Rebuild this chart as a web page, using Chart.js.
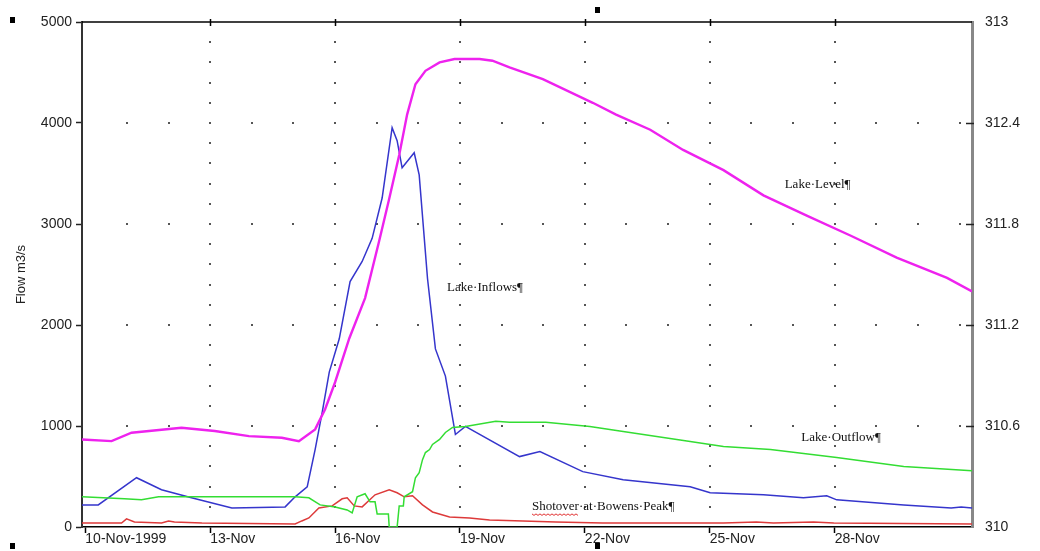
<!DOCTYPE html>
<html><head><meta charset="utf-8">
<script src="https://cdn.jsdelivr.net/npm/chart.js@4.4.1/dist/chart.umd.min.js"></script>
<style>html,body{margin:0;padding:0;background:#fff;}#wrap{width:1040px;height:551px;position:relative;}</style>
</head><body><div id="wrap"><canvas id="c" width="1040" height="551"></canvas></div>
<script>
// ---- tick labels ----
const xTickDays = [0, 3, 6, 9, 12, 15, 18];
const xTickLabels = ['10-Nov-1999', '13-Nov', '16-Nov', '19-Nov', '22-Nov', '25-Nov', '28-Nov'];
const flowTicks = [0, 1000, 2000, 3000, 4000, 5000];
const flowTickLabels = ['0', '1000', '2000', '3000', '4000', '5000'];
const levelTicks = [310, 310.6, 311.2, 311.8, 312.4, 313];
const levelTickLabels = ['310', '310.6', '311.2', '311.8', '312.4', '313'];

// ---- series (days since 10-Nov-1999 00:00) ----
const inflowDays   = [-0.08, 0.31, 1.23, 1.83, 2.55, 3.52, 4.80, 5.04, 5.33, 5.52, 5.69, 5.86, 6.10, 6.36, 6.65, 6.89, 7.13, 7.37, 7.49, 7.61, 7.90, 8.02, 8.22, 8.41, 8.65, 8.89, 9.13, 10.43, 10.92, 11.95, 12.92, 14.53, 15.01, 16.29, 17.25, 17.81, 18.05, 19.66, 20.80, 21.04, 21.3];
const inflowValues = [219, 219, 488, 369, 289, 189, 199, 299, 398, 767, 1135, 1534, 1863, 2430, 2629, 2858, 3257, 3954, 3825, 3556, 3705, 3486, 2460, 1763, 1494, 916, 996, 697, 747, 548, 468, 398, 339, 319, 289, 309, 269, 219, 189, 199, 189];

const outflowDays   = [-0.08, 0.94, 1.35, 1.76, 5.04, 5.37, 5.64, 6.00, 6.29, 6.41, 6.53, 6.72, 6.84, 6.96, 7.01, 7.28, 7.30, 7.49, 7.54, 7.64, 7.66, 7.86, 7.93, 8.02, 8.10, 8.17, 8.27, 8.34, 8.51, 8.65, 8.82, 9.13, 9.86, 10.19, 11.06, 12.12, 12.92, 14.53, 15.33, 16.46, 18.05, 19.66, 21.3];
const outflowValues = [299, 279, 269, 299, 299, 289, 219, 199, 169, 139, 299, 329, 249, 249, 129, 129, 0, 0, 209, 209, 299, 349, 488, 538, 667, 737, 767, 817, 867, 936, 986, 996, 1046, 1036, 1036, 996, 946, 847, 797, 767, 687, 598, 558];

const shotoverDays   = [-0.08, 0.87, 0.99, 1.18, 1.83, 2.0, 2.14, 2.80, 5.04, 5.20, 5.37, 5.61, 5.93, 6.17, 6.29, 6.46, 6.65, 6.96, 7.30, 7.49, 7.66, 7.86, 8.10, 8.34, 8.75, 9.23, 9.71, 10.51, 11.30, 12.43, 15.33, 16.12, 16.53, 17.49, 17.98, 21.3];
const shotoverValues = [40, 40, 80, 50, 40, 60, 50, 40, 30, 60, 90, 189, 209, 279, 289, 209, 199, 319, 369, 339, 299, 309, 219, 149, 100, 90, 70, 60, 50, 40, 40, 50, 40, 50, 40, 30];

const levelDays   = [-0.08, 0.63, 1.11, 2.31, 3.11, 3.93, 4.72, 5.13, 5.52, 5.76, 6.00, 6.34, 6.72, 7.06, 7.30, 7.54, 7.73, 7.93, 8.17, 8.51, 8.87, 9.47, 9.78, 10.19, 10.99, 12.19, 12.75, 13.57, 14.36, 15.33, 16.29, 17.33, 18.39, 19.49, 20.70, 21.3];
const levelValues = [310.52, 310.51, 310.56, 310.59, 310.57, 310.54, 310.53, 310.51, 310.58, 310.70, 310.86, 311.12, 311.36, 311.70, 311.95, 312.21, 312.45, 312.63, 312.71, 312.76, 312.78, 312.78, 312.77, 312.73, 312.66, 312.52, 312.45, 312.36, 312.24, 312.12, 311.97, 311.85, 311.73, 311.60, 311.48, 311.40];

// ---- in-chart text labels (anchored in data units) ----
const noteTexts = ['Lake·Level¶', 'Lake·Inflows¶', 'Lake·Outflow¶', 'Shotover·at·Bowens·Peak¶'];
const noteDays  = [16.8, 8.69, 17.2, 10.73];
const noteFlows = [3386, 2370, 886, 199];

const pts = (xs, ys) => xs.map((d, i) => ({x: d, y: ys[i]}));

const decor = {
  id: 'decor',
  beforeDatasetsDraw(chart) {
    const {ctx, scales: {x, y}} = chart;
    ctx.save();
    ctx.fillStyle = '#555';
    for (const v of flowTicks.slice(1, -1)) {
      const py = Math.round(y.getPixelForValue(v));
      for (let d = 1; d <= 21; d++) {
        const px = Math.round(x.getPixelForValue(d));
        ctx.fillRect(px - 1, py - 1, 2, 2);
      }
    }
    for (const d of xTickDays.slice(1)) {
      const px = Math.round(x.getPixelForValue(d));
      for (let v = 200; v < 5000; v += 200) {
        const py = Math.round(y.getPixelForValue(v));
        ctx.fillRect(px - 1, py - 1, 2, 2);
      }
    }
    ctx.restore();
  },
  afterDraw(chart) {
    const {ctx, chartArea: a, scales: {x, y, y2}} = chart;
    ctx.save();
    ctx.strokeStyle = '#000';
    ctx.lineWidth = 1.5;
    ctx.beginPath(); ctx.moveTo(a.left, a.top); ctx.lineTo(a.right, a.top); ctx.stroke();
    for (const d of xTickDays.slice(1)) {
      const px = Math.round(x.getPixelForValue(d)) + 0.5;
      ctx.beginPath(); ctx.moveTo(px, a.top - 3); ctx.lineTo(px, a.top + 4); ctx.stroke();
    }
    ctx.strokeStyle = '#222';
    for (const v of levelTicks.slice(1, -1)) {
      const py = Math.round(y2.getPixelForValue(v)) + 0.5;
      ctx.beginPath(); ctx.moveTo(a.right - 6, py); ctx.lineTo(a.right + 2, py); ctx.stroke();
    }
    ctx.font = '13px "Liberation Serif"';
    ctx.fillStyle = '#111';
    ctx.textBaseline = 'middle';
    ctx.textAlign = 'left';
    noteTexts.forEach((t, i) => {
      const px = x.getPixelForValue(noteDays[i]);
      const py = y.getPixelForValue(noteFlows[i]);
      ctx.fillText(t, px, py);
      if (t.startsWith('Shotover')) {
        const w = ctx.measureText('Shotover').width;
        ctx.strokeStyle = '#e03030';
        ctx.lineWidth = 1;
        ctx.beginPath();
        for (let k = 0; k <= w; k += 2) {
          const yy = py + 7 + ((k / 2) % 2 ? 1.5 : 0);
          if (k === 0) ctx.moveTo(px + k, yy); else ctx.lineTo(px + k, yy);
        }
        ctx.stroke();
      }
    });
    ctx.fillStyle = '#000';
    [[10, 17], [595, 7], [10, 543], [595, 543]].forEach(([hx, hy]) => ctx.fillRect(hx, hy, 5, 6));
    ctx.restore();
  }
};

const tickFont = {family: '"Liberation Sans", Arial, sans-serif', size: 14};

new Chart(document.getElementById('c'), {
  type: 'line',
  data: {
    datasets: [
      {label: 'Lake Level', data: pts(levelDays, levelValues), yAxisID: 'y2', borderColor: '#ee22ee', borderWidth: 2.4},
      {label: 'Lake Outflow', data: pts(outflowDays, outflowValues), yAxisID: 'y', borderColor: '#33dd33', borderWidth: 1.5},
      {label: 'Shotover at Bowens Peak', data: pts(shotoverDays, shotoverValues), yAxisID: 'y', borderColor: '#dd3a3a', borderWidth: 1.5},
      {label: 'Lake Inflows', data: pts(inflowDays, inflowValues), yAxisID: 'y', borderColor: '#3535cc', borderWidth: 1.5}
    ]
  },
  options: {
    responsive: false,
    animation: false,
    devicePixelRatio: 1,
    events: [],
    elements: {point: {radius: 0}, line: {tension: 0}},
    layout: {padding: {left: 0, right: 0, top: 22, bottom: 0}},
    plugins: {legend: {display: false}, tooltip: {enabled: false}},
    scales: {
      x: {
        type: 'linear', min: -0.08, max: 21.3,
        afterBuildTicks: s => { s.ticks = xTickDays.map(v => ({value: v})); },
        afterFit: s => { s.height = 24; },
        ticks: {
          callback: (v) => xTickLabels[xTickDays.indexOf(v)] ?? '',
          align: 'start', autoSkip: false, maxRotation: 0, padding: -2,
          color: '#222', font: tickFont
        },
        grid: {drawOnChartArea: false, drawTicks: true, tickLength: 6, tickColor: '#000', tickWidth: 1.5},
        border: {display: true, color: '#000', width: 1.5}
      },
      y: {
        type: 'linear', position: 'left', min: 0, max: 5000,
        afterBuildTicks: s => { s.ticks = flowTicks.map(v => ({value: v})); },
        afterFit: s => { s.width = 82; },
        ticks: {callback: (v) => flowTickLabels[flowTicks.indexOf(v)] ?? '', color: '#222', font: tickFont, padding: 4},
        grid: {drawOnChartArea: false, drawTicks: true, tickLength: 6, tickColor: '#222', tickWidth: 1.5},
        border: {display: true, color: '#333', width: 2},
        title: {display: true, text: 'Flow m3/s', color: '#222', font: {family: '"Liberation Sans", Arial, sans-serif', size: 13}, padding: {top: 14, bottom: 0}}
      },
      y2: {
        type: 'linear', position: 'right', min: 310, max: 313,
        afterBuildTicks: s => { s.ticks = levelTicks.map(v => ({value: v})); },
        afterFit: s => { s.width = 68; },
        ticks: {
          callback: (v) => levelTickLabels[levelTicks.indexOf(v)] ?? '',
          color: '#222', font: tickFont, padding: 7
        },
        grid: {drawOnChartArea: false, drawTicks: true, tickLength: 6, tickColor: 'rgba(0,0,0,0)'},
        border: {display: true, color: '#888', width: 3}
      }
    }
  },
  plugins: [decor]
});
</script>
</body></html>
